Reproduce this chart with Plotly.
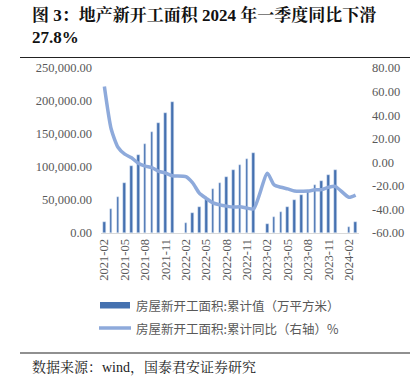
import plotly.graph_objects as go

# ---- data ----
categories = (
    [f"2021-{m:02d}" for m in range(2, 13)]
    + [f"2022-{m:02d}" for m in range(1, 13)]
    + [f"2023-{m:02d}" for m in range(1, 13)]
    + ["2024-01", "2024-02", "2024-03"]
)
area_cum = [
    17093, 36163, 54794, 75263, 101288, 118070, 135502, 152944, 166736, 182487, 198895,
    None, 15155, 29838, 39739, 51628, 66423, 75368, 85062, 94767, 103722, 111632, 120587,
    None, 13568, 24121, 31317, 39958, 49880, 56969, 63891, 72123, 79177, 87656, 95376,
    None, 9429, 17402,
]
yoy = [
    64.3, 28.2, 12.8, 6.9, 3.8, -0.9, -3.2, -4.5, -7.7, -9.1, -11.4,
    None, -12.2, -17.5, -26.3, -30.6, -34.4, -36.1, -37.2, -38.0, -37.8, -38.9, -39.4,
    None, -9.4, -19.2, -21.2, -22.6, -24.3, -24.5, -24.4, -23.4, -23.2, -21.2, -20.4,
    None, -29.7, -27.8,
]
x_tick_labels = categories[::3]
left_ticks = [0, 50000, 100000, 150000, 200000, 250000]
left_tick_text = ["0.00", "50,000.00", "100,000.00", "150,000.00", "200,000.00", "250,000.00"]
right_ticks = [-60, -40, -20, 0, 20, 40, 60, 80]
right_tick_text = ["-60.00", "-40.00", "-20.00", "0.00", "20.00", "40.00", "60.00", "80.00"]

bar_name = "房屋新开工面积:累计值（万平方米）"
line_name = "房屋新开工面积:累计同比（右轴）%"
title_text = "图 3：地产新开工面积 2024 年一季度同比下滑<br>27.8%"
source_text = "数据来源：wind，国泰君安证券研究"

BAR_C = "#4571B0"
LINE_C = "#8EAADB"
GREY = "#595959"
SERIF = "Liberation Serif, Times New Roman, Noto Serif CJK SC, Noto Sans CJK SC, serif"
SANS = "Noto Sans CJK SC, Noto Sans, sans-serif"

fig = go.Figure()
fig.add_trace(go.Bar(x=categories, y=area_cum, marker_color=BAR_C, width=0.38,
                     name=bar_name, showlegend=False, yaxis="y"))
fig.add_trace(go.Scatter(x=categories, y=yoy, mode="lines", connectgaps=True,
                         line=dict(color=LINE_C, width=3.5, shape="spline", smoothing=0.6),
                         name=line_name, showlegend=False, yaxis="y2"))

W, H = 418, 388
L, R, T, B = 101, 59, 68, 155
PW, PH = W - L - R, H - T - B

fig.update_layout(
    width=W, height=H,
    margin=dict(l=L, r=R, t=T, b=B, autoexpand=False),
    paper_bgcolor="white", plot_bgcolor="white",
    bargap=0,
    xaxis=dict(type="category", categoryorder="array", categoryarray=categories,
               tickmode="array", tickvals=x_tick_labels, ticktext=x_tick_labels,
               tickangle=-90, tickfont=dict(family=SERIF, size=12.5, color=GREY),
               showline=True, linecolor="#D9D9D9", linewidth=1, ticks="",
               showgrid=False, range=[-0.5, len(categories) - 0.5], automargin=False),
    yaxis=dict(range=[0, 250000], tickmode="array", tickvals=left_ticks, ticktext=left_tick_text,
               tickfont=dict(family=SERIF, size=12.5, color=GREY), showgrid=False,
               zeroline=False, showline=False, ticks="", ticklabelstandoff=8, automargin=False),
    yaxis2=dict(range=[-60, 80], overlaying="y", side="right", tickmode="array",
                tickvals=right_ticks, ticktext=right_tick_text,
                tickfont=dict(family=SERIF, size=12.5, color=GREY), showgrid=False,
                zeroline=False, showline=False, ticks="", ticklabelstandoff=12, automargin=False),
)

def px_x(x):
    return (x - L) / PW

def px_y(y):
    return (H - B - y) / PH

shapes = []
annotations = []
# title
annotations.append(dict(xref="paper", yref="paper", x=px_x(30), y=px_y(3), xanchor="left", yanchor="top",
                        text="<b>" + title_text + "</b>", showarrow=False, align="left",
                        font=dict(family=SERIF, size=17, color="#111111")))
# rules
shapes.append(dict(type="line", xref="paper", yref="paper", x0=px_x(20), x1=px_x(410),
                   y0=px_y(57.5), y1=px_y(57.5), line=dict(color="#222222", width=1.2)))
shapes.append(dict(type="line", xref="paper", yref="paper", x0=px_x(20), x1=px_x(410),
                   y0=px_y(353), y1=px_y(353), line=dict(color="#222222", width=1.2)))
# source
annotations.append(dict(xref="paper", yref="paper", x=px_x(30), y=px_y(367), xanchor="left", yanchor="middle",
                        text=source_text, showarrow=False,
                        font=dict(family=SERIF, size=14, color="#222222")))
# custom legend
shapes.append(dict(type="rect", xref="paper", yref="paper", x0=px_x(100), x1=px_x(130),
                   y0=px_y(308.5), y1=px_y(302), fillcolor=BAR_C, line=dict(width=0)))
shapes.append(dict(type="line", xref="paper", yref="paper", x0=px_x(99), x1=px_x(131),
                   y0=px_y(328), y1=px_y(328), line=dict(color=LINE_C, width=3.5)))
annotations.append(dict(xref="paper", yref="paper", x=px_x(134), y=px_y(305), xanchor="left", yanchor="middle",
                        text=bar_name, showarrow=False, font=dict(family=SANS, size=12.5, color=GREY)))
annotations.append(dict(xref="paper", yref="paper", x=px_x(134), y=px_y(328), xanchor="left", yanchor="middle",
                        text=line_name, showarrow=False, font=dict(family=SANS, size=12.5, color=GREY)))

fig.update_layout(shapes=shapes, annotations=annotations)
fig.write_html("out.html", config={"displayModeBar": False},
               post_script="document.body.style.margin='0';")
